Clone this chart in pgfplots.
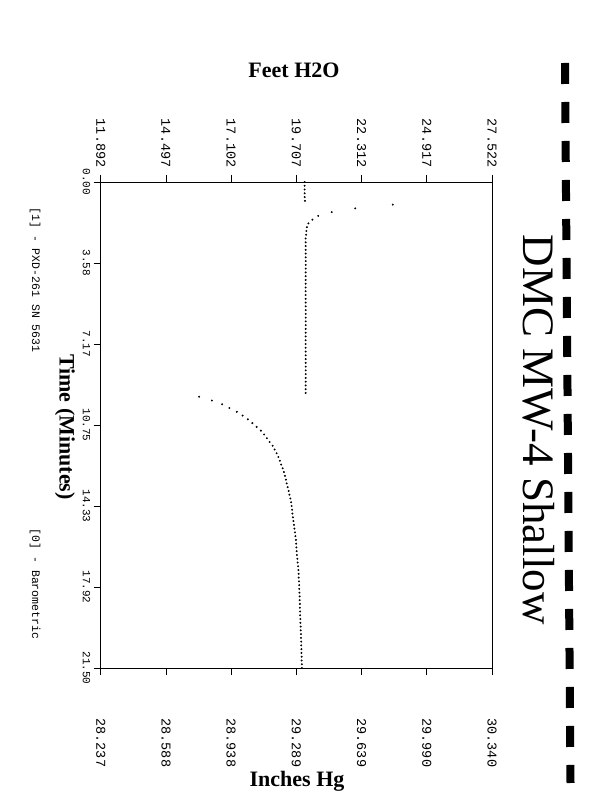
\documentclass[border=0pt]{standalone}
\usepackage{pgfplots}
\usepackage{pgfplotstable}
\pgfplotsset{compat=1.18}
\usepackage{fontspec}
\setmainfont{Liberation Serif}
\newfontfamily\monofont{Liberation Mono}

% PXD-261 SN 5631, time (min) vs feet of water, one dot per reading
\pgfplotstableread{
t      f
0.000  20.04
0.167  20.04
0.333  20.04
0.500  20.04
0.667  20.04
0.833  20.05
1.000  23.56
1.167  22.06
1.333  21.12
1.500  20.58
1.667  20.35
1.833  20.19
2.000  20.13
2.167  20.11
2.333  20.10
2.500  20.08
2.667  20.08
2.833  20.08
3.000  20.08
3.167  20.08
3.333  20.08
3.500  20.08
3.667  20.08
3.833  20.08
4.000  20.08
4.167  20.08
4.333  20.08
4.500  20.08
4.667  20.08
4.833  20.08
5.000  20.08
5.167  20.08
5.333  20.08
5.500  20.08
5.667  20.08
5.833  20.08
6.000  20.08
6.167  20.08
6.333  20.08
6.500  20.08
6.667  20.08
6.833  20.08
7.000  20.08
7.167  20.08
7.333  20.08
7.500  20.08
7.667  20.08
7.833  20.08
8.000  20.08
8.167  20.08
8.333  20.08
8.500  20.08
8.667  20.08
8.833  20.08
9.000  20.08
9.167  20.08
9.333  20.08
}\firsttest

\pgfplotstableread{
t      f
9.500  15.82
9.667  16.33
9.833  16.74
10.000 17.03
10.167 17.33
10.333 17.56
10.500 17.77
10.667 17.95
10.833 18.12
11.000 18.29
11.167 18.42
11.333 18.53
11.500 18.64
11.667 18.76
11.833 18.84
12.000 18.92
12.167 18.99
12.333 19.05
12.500 19.10
12.667 19.16
12.833 19.21
13.000 19.25
13.167 19.29
13.333 19.32
13.500 19.36
13.667 19.40
13.833 19.43
14.000 19.47
14.167 19.50
14.333 19.52
14.500 19.54
14.667 19.55
14.833 19.57
15.000 19.59
15.167 19.61
15.333 19.63
15.500 19.65
15.667 19.67
15.833 19.69
16.000 19.70
16.167 19.71
16.333 19.72
16.500 19.73
16.667 19.75
16.833 19.76
17.000 19.78
17.167 19.79
17.333 19.80
17.500 19.80
17.667 19.81
17.833 19.82
18.000 19.82
18.167 19.83
18.333 19.84
18.500 19.84
18.667 19.85
18.833 19.85
19.000 19.86
19.167 19.86
19.333 19.87
19.500 19.87
19.667 19.88
19.833 19.88
20.000 19.89
20.167 19.89
20.333 19.90
20.500 19.90
20.667 19.91
20.833 19.91
21.000 19.92
21.167 19.92
21.333 19.93
21.500 19.93
}\secondtest

\begin{document}
\begin{tikzpicture}
\path[use as bounding box] (0,0) rectangle (612pt,800pt);

% page is turned a quarter clockwise: time runs down, feet H2O runs right
\begin{axis}[
    at={(296.35pt,375pt)}, anchor=center,
    width=391.3pt, height=486pt, scale only axis,
    xmin=11.892, xmax=27.522, ymin=0, ymax=21.5,
    y dir=reverse,
    xtick={11.892,14.497,17.102,19.707,22.312,24.917,27.522},
    xticklabels={11.892,14.497,17.102,19.707,22.312,24.917,27.522},
    ytick={0,3.5833,7.1667,10.75,14.3333,17.9167,21.5},
    yticklabels={0.00,3.58,7.17,10.75,14.33,17.92,21.50},
    xtick pos=right, xticklabel pos=right,
    ytick pos=left, yticklabel pos=left,
    tick align=outside, major tick length=7pt,
    xticklabel style={font=\monofont\fontsize{13.5}{14}\selectfont, rotate=-90, anchor=east},
    xticklabel shift=4pt,
    yticklabel style={font=\monofont\fontsize{11}{12}\selectfont, rotate=-90, anchor=north},
    axis line style={line width=0.8pt},
    every tick/.style={black, line width=0.8pt},
  ]
  \addplot[only marks, mark=*, mark size=0.75pt, black] table[x=f, y=t] {\firsttest};
  \addplot[only marks, mark=*, mark size=0.75pt, black] table[x=f, y=t] {\secondtest};
\end{axis}

% barometric scale along the opposite side
\begin{axis}[
    at={(296.35pt,375pt)}, anchor=center,
    width=391.3pt, height=486pt, scale only axis,
    xmin=28.237, xmax=30.340, ymin=0, ymax=21.5,
    y dir=reverse,
    xtick={28.237,28.588,28.938,29.289,29.639,29.990,30.340},
    xticklabels={28.237,28.588,28.938,29.289,29.639,29.990,30.340},
    xtick pos=left, xticklabel pos=left,
    ytick=\empty,
    tick align=outside, major tick length=7pt,
    xticklabel style={font=\monofont\fontsize{13.5}{14}\selectfont, rotate=-90, anchor=west},
    xticklabel shift=40pt,
    axis line style={line width=0.8pt},
    every tick/.style={black, line width=0.8pt},
  ]
\end{axis}

\node[font=\bfseries\fontsize{22}{24}\selectfont, anchor=base] at (294pt,722pt) {Feet H2O};
\node[font=\bfseries\fontsize{22}{24}\selectfont, anchor=base] at (297pt,13pt) {Inches Hg};
\node[font=\bfseries\fontsize{22}{24}\selectfont, rotate=-90] at (65pt,373pt) {Time (Minutes)};
\node[font=\fontsize{45}{48}\selectfont, rotate=-90] at (539pt,370pt) {DMC MW-4 Shallow};
\node[font=\monofont\fontsize{11.5}{13}\selectfont, rotate=-90] at (35pt,520pt) {[1] - PXD-261 SN 5631};
\node[font=\monofont\fontsize{11.5}{13}\selectfont, rotate=-90] at (35pt,216pt) {[0] - Barometric};

% punched edge of the sheet
\draw[line width=8pt, dash pattern=on 21pt off 18pt] (565pt,737pt) -- (570.5pt,17pt);
\end{tikzpicture}
\end{document}
